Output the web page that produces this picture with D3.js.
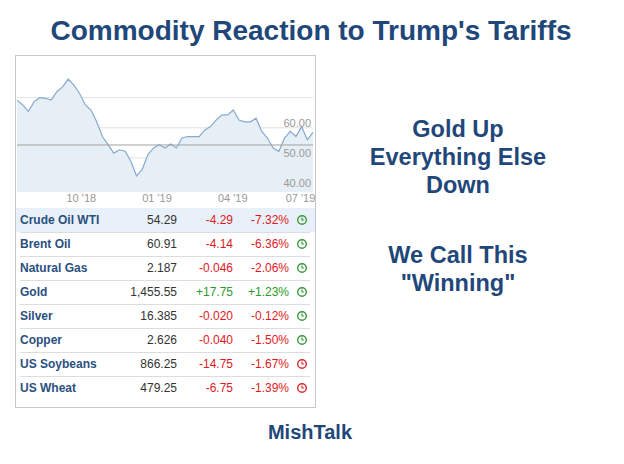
<!DOCTYPE html>
<html><head><meta charset="utf-8">
<script src="https://cdn.jsdelivr.net/npm/d3@7"></script>
<style>body{margin:0;background:#fff;font-family:Arial,"Liberation Sans",sans-serif}</style>
</head><body>
<svg id="c" width="624" height="464"></svg>
<script>
// weekly WTI closes
const prices = [69.2,67.6,65.4,68.7,70,69.8,69.2,72,73.6,76.2,74.2,71.4,67.6,65.9,62,57.1,54.4,51.6,52.7,52.2,48.9,44,46.2,51.1,53.3,54.4,53.3,54.6,53.3,56.6,57.1,57.1,57.1,59.3,60.4,62.6,64.3,64.3,65.9,62.6,62,62,63.2,58.8,56.6,53.3,52.2,56.6,58.8,57.1,60.4,56,58.5];
const lastPrice = 54.29;
const yTicks = [40, 50, 60, 70];
const xTickLabels = ["10 '18", "01 '19", "04 '19", "07 '19"];
const xTickIdx = [11.3, 24.6, 37.9, 49.8];

const names = ["Crude Oil WTI","Brent Oil","Natural Gas","Gold","Silver","Copper","US Soybeans","US Wheat"];
const lasts = ["54.29","60.91","2.187","1,455.55","16.385","2.626","866.25","479.25"];
const changes = ["-4.29","-4.14","-0.046","+17.75","-0.020","-0.040","-14.75","-6.75"];
const pcts = ["-7.32%","-6.36%","-2.06%","+1.23%","-0.12%","-1.50%","-1.67%","-1.39%"];
const marketOpen = [true,true,true,true,true,true,false,false];

const svg = d3.select("#c");
const navy = "#1f477a";

svg.append("text").attr("x",311).attr("y",40).attr("text-anchor","middle")
  .style("font-size","28px").style("font-weight","bold").style("fill",navy)
  .text("Commodity Reaction to Trump's Tariffs");

// panel
svg.append("rect").attr("x",15.5).attr("y",55.5).attr("width",300).attr("height",352)
  .attr("fill","none").attr("stroke","#c8c8c8");

const x = d3.scaleLinear().domain([0, prices.length-1]).range([17, 313]);
const y = d3.scaleLinear().domain([40, 70]).range([188, 97.7]);
const bottom = 192;

svg.append("g").selectAll("line").data(yTicks).join("line")
  .attr("x1",17).attr("x2",313).attr("y1",d=>y(d)).attr("y2",d=>y(d))
  .attr("stroke","#e2e2e2");

svg.append("path").datum(prices)
  .attr("d", d3.area().x((d,i)=>x(i)).y0(bottom).y1(d=>y(d)))
  .attr("fill","#e6eff5");
svg.append("path").datum(prices)
  .attr("d", d3.line().x((d,i)=>x(i)).y(d=>y(d)))
  .attr("fill","none").attr("stroke","#86a9cf").attr("stroke-width",1.2);

svg.append("line").attr("x1",17).attr("x2",313).attr("y1",y(lastPrice)).attr("y2",y(lastPrice))
  .attr("stroke","#a0a0a0").attr("stroke-width",1);

svg.append("g").selectAll("text").data(yTicks.slice(0,3)).join("text")
  .attr("x",311).attr("y",d=>y(d)-1).attr("text-anchor","end")
  .style("font-size","11px").style("fill","#999").text(d=>d.toFixed(2));

svg.append("g").selectAll("text").data(xTickLabels).join("text")
  .attr("x",(d,i)=>x(xTickIdx[i])).attr("y",202).attr("text-anchor","middle")
  .style("font-size","11px").style("fill","#999").text(d=>d);

// table
const rowH = 24, tableTop = 208;
svg.append("rect").attr("x",16).attr("y",tableTop).attr("width",299).attr("height",rowH).attr("fill","#e8f1f9");
const rows = svg.append("g").selectAll("g").data(names).join("g")
  .attr("transform",(d,i)=>`translate(0,${tableTop+i*rowH})`);
rows.append("line").attr("x1",20).attr("x2",310).attr("y1",rowH+0.5).attr("y2",rowH+0.5)
  .attr("stroke","#ddd").attr("display",(d,i)=>i===names.length-1?"none":null);
rows.append("text").attr("x",20).attr("y",16).style("font-size","12px").style("font-weight","bold")
  .style("fill","#2a4f80").text(d=>d);
rows.append("text").attr("x",177).attr("y",16).attr("text-anchor","end").style("font-size","12px")
  .style("fill","#333").text((d,i)=>lasts[i]);
const col = (i)=>changes[i][0]==="+"?"#2a9a2a":"#e0191e";
rows.append("text").attr("x",233).attr("y",16).attr("text-anchor","end").style("font-size","12px")
  .style("fill",(d,i)=>col(i)).text((d,i)=>changes[i]);
rows.append("text").attr("x",289).attr("y",16).attr("text-anchor","end").style("font-size","12px")
  .style("fill",(d,i)=>col(i)).text((d,i)=>pcts[i]);
const ic = (i)=>marketOpen[i]?"#3a9a3a":"#d9282b";
rows.append("circle").attr("cx",302).attr("cy",12).attr("r",4.3).attr("fill","none")
  .attr("stroke",(d,i)=>ic(i)).attr("stroke-width",1.4);
rows.append("path").attr("d","M302,9.5V12H304").attr("fill","none")
  .attr("stroke",(d,i)=>ic(i)).attr("stroke-width",1.2);

// side text
const side = [["Gold Up",137],["Everything Else",165],["Down",193],["We Call This",263],["\"Winning\"",291]];
svg.append("g").selectAll("text").data(side).join("text")
  .attr("x",458).attr("y",d=>d[1]).attr("text-anchor","middle")
  .style("font-size","23.5px").style("font-weight","bold").style("fill",navy).text(d=>d[0]);

svg.append("text").attr("x",310).attr("y",439).attr("text-anchor","middle")
  .style("font-size","20px").style("font-weight","bold").style("fill",navy).text("MishTalk");
</script>
</body></html>
